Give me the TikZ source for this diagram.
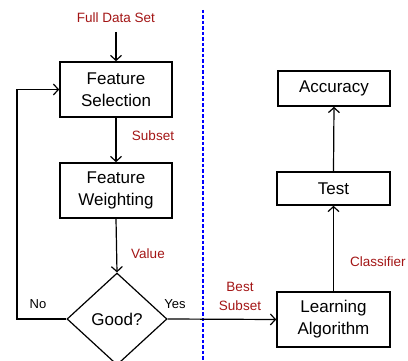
\documentclass[tikz,border=0pt]{standalone}
\usepackage{fontspec}
\setmainfont{Liberation Sans}
\usetikzlibrary{arrows.meta,shapes.geometric}
\definecolor{lblred}{HTML}{A31515}
\tikzset{
  box/.style={draw, line width=1.6pt, minimum width=112pt, inner sep=0pt,
    align=center, font=\fontsize{17}{22}\selectfont},
  decision/.style={draw, line width=1.2pt, diamond, inner sep=0pt,
    minimum width=100pt, minimum height=92pt, aspect=1.087,
    font=\fontsize{17}{20}\selectfont},
  flow/.style={line width=1.2pt, -{Straight Barb[length=5pt,width=11pt,line width=1.2pt]}},
  lbl/.style={text=lblred, font=\fontsize{13.5}{19}\selectfont, align=center, inner sep=0pt},
  side/.style={font=\fontsize{13}{15}\selectfont, inner sep=0pt},
  divider/.style={draw=blue, line width=1.7pt, dash pattern=on 3.5pt off 2pt}
}
\begin{document}
\begin{tikzpicture}[x=1pt,y=-1pt]
  \useasboundingbox (0,0) rectangle (408,361);

  % left column: selection loop
  \node[lbl] (full) at (116,18) {Full Data Set};
  \coordinate (in) at (116,32);
  \node[box, minimum height=55pt] (fs) at (116,89.5) {Feature\\Selection};
  \node[box, minimum height=55pt] (fw) at (116,190.5) {Feature\\Weighting};
  \node[decision] (good) at (117,319) {Good?};
  \coordinate (loop) at (17,319);

  \draw[flow] (in) -- (fs.north);
  \draw[flow] (fs.south) -- (fw.north);
  \draw[flow] (fw.south) -- (good.north);
  \draw[flow] (good.west) -- (loop) |- (fs.west);

  \node[lbl] at (153,136) {Subset};
  \node[lbl] at (148,254) {Value};
  \node[side] at (38,304) {No};
  \node[side] at (175,304) {Yes};

  % separator between the two stages
  \coordinate (dtop) at (203,10);
  \coordinate (dbot) at (203,361);
  \draw[divider] (dtop) -- (dbot);

  % right column: evaluation
  \node[box, minimum width=113pt, minimum height=55pt] (la) at (333.5,319.5) {Learning\\Algorithm};
  \node[box, minimum width=113pt, minimum height=33pt] (test) at (333.5,188.5) {Test};
  \node[box, minimum height=35pt] (acc) at (334,88.5) {Accuracy};

  \draw[flow] (good.east) -- (la.west);
  \draw[flow] (la.north) -- (test.south);
  \draw[flow] (test.north) -- (acc.south);

  \node[lbl] at (240,296) {Best\\Subset};
  \node[lbl] at (378,262) {Classifier};
\end{tikzpicture}
\end{document}
